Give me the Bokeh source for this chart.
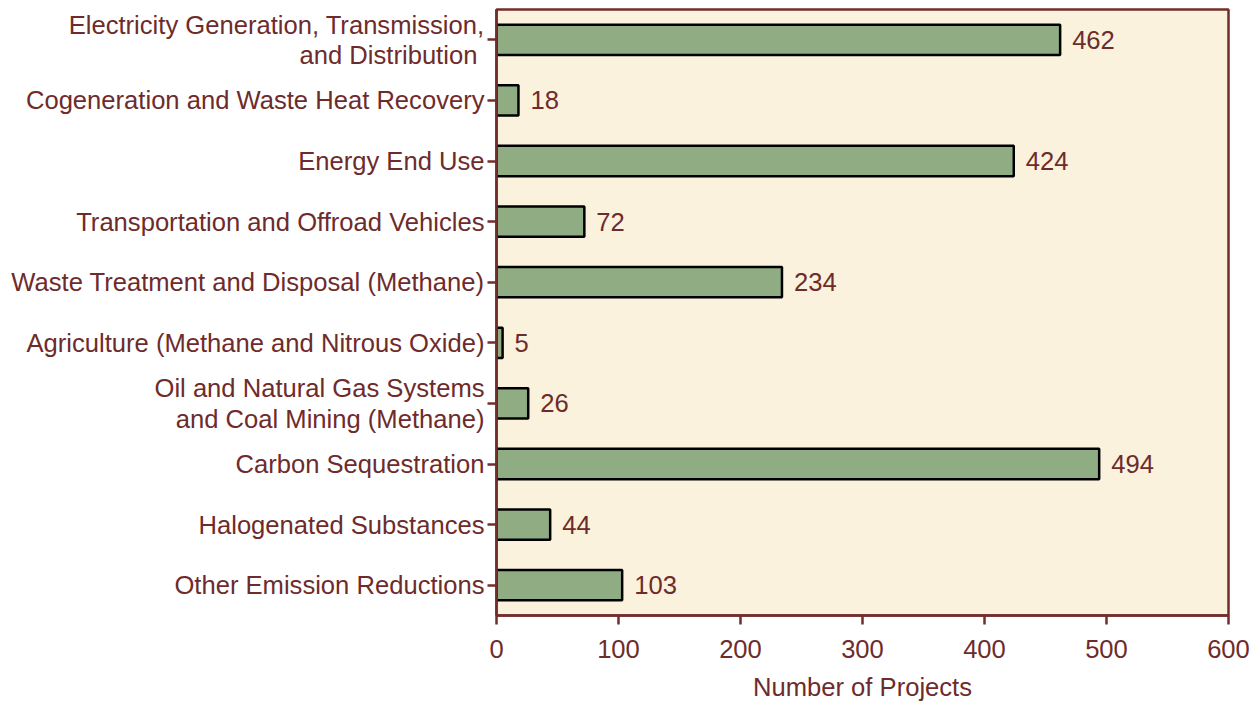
from bokeh.plotting import figure
from bokeh.models import ColumnDataSource, Range1d, FixedTicker, Title
from bokeh.embed import file_html
from bokeh.resources import INLINE
from bokeh.core.properties import value

categories = [
    "Electricity Generation, Transmission,\nand Distribution ",
    "Cogeneration and Waste Heat Recovery",
    "Energy End Use",
    "Transportation and Offroad Vehicles",
    "Waste Treatment and Disposal (Methane)",
    "Agriculture (Methane and Nitrous Oxide)",
    "Oil and Natural Gas Systems\nand Coal Mining (Methane)",
    "Carbon Sequestration",
    "Halogenated Substances",
    "Other Emission Reductions",
]
projects = [462, 18, 424, 72, 234, 5, 26, 494, 44, 103]
x_ticks = [0, 100, 200, 300, 400, 500, 600]
x_title = "Number of Projects"

TEXT = "#6e2b2b"
AXIS = "#722d2d"
FONT = "Liberation Sans"
FS = "25.6px"

src = ColumnDataSource(dict(cat=categories, val=projects, lbl=[str(v) for v in projects]))

p = figure(
    y_range=list(reversed(categories)),
    x_range=Range1d(0, 600),
    width=1252, height=710,
    output_backend="svg", toolbar_location=None,
    min_border_left=496, min_border_right=24, min_border_top=9, min_border_bottom=94,
    background_fill_color="#faf2dc", border_fill_color="white",
)
p.y_range.range_padding = 0

p.hbar(y="cat", right="val", left=0, height=0.5, source=src,
       fill_color="#8fac82", line_color="black", line_width=2.5)
p.text(x="val", y="cat", text="lbl", source=src, x_offset=12,
       text_align="left", text_baseline="middle",
       text_font=value(FONT), text_font_size=FS, text_color=TEXT)

p.grid.visible = False
p.outline_line_color = AXIS
p.outline_line_width = 2.5
p.outline_line_alpha = 1

p.xaxis.ticker = FixedTicker(ticks=x_ticks)
p.xaxis.major_label_standoff = 15

for ax in (p.xaxis, p.yaxis):
    ax.axis_line_color = AXIS
    ax.axis_line_width = 2.5
    ax.major_tick_line_color = AXIS
    ax.major_tick_line_width = 2.5
    ax.major_tick_out = 9
    ax.major_tick_in = 0
    ax.minor_tick_line_color = None
    ax.major_label_text_font = FONT
    ax.major_label_text_font_size = FS
    ax.major_label_text_color = TEXT

p.yaxis.major_label_standoff = 3
p.yaxis.major_label_text_line_height = 1.08

p.add_layout(Title(text=x_title, align="center", text_font=FONT,
                   text_font_size=FS, text_font_style="normal",
                   text_line_height=0.5,
                   text_color=TEXT, standoff=20), "below")

open("out.html", "w").write(file_html(p, INLINE))
